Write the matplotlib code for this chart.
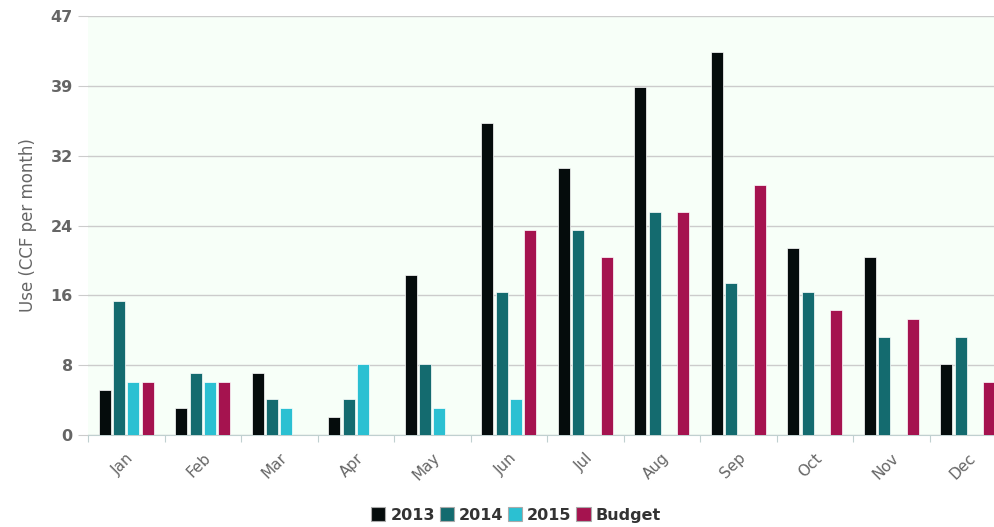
import numpy as np
import matplotlib.pyplot as plt
from matplotlib.patches import Patch

# Data (CCF per month)
months = ['Jan', 'Feb', 'Mar', 'Apr', 'May', 'Jun', 'Jul', 'Aug', 'Sep', 'Oct', 'Nov', 'Dec']
use_2013 = [5, 3, 7, 2, 18, 35, 30, 39, 43, 21, 20, 8]
use_2014 = [15, 7, 4, 4, 8, 16, 23, 25, 17, 16, 11, 11]
use_2015 = [6, 6, 3, 8, 3, 4, 0, 0, 0, 0, 0, 0]
budget   = [6, 6, 0, 0, 0, 23, 20, 25, 28, 14, 13, 6]
series_names = ['2013', '2014', '2015', 'Budget']
ytick_labels = ['0', '8', '16', '24', '32', '39', '47']

colors = ['#050c0c', '#146b6f', '#2bc0d2', '#a5134f']

fig = plt.figure(figsize=(9.94, 5.27), dpi=100)
ax = fig.add_axes([88 / 994, 92 / 527, 918 / 994, 419 / 527])
ax.set_facecolor('#f7fff8')

x = np.arange(len(months))
bw = 0.157
step = 0.187
data = [use_2013, use_2014, use_2015, budget]
for i, (vals, c) in enumerate(zip(data, colors)):
    ax.bar(x + (i - 1.5) * step, vals, width=bw, color=c, edgecolor='white',
           linewidth=0.5, zorder=3)

ax.set_xlim(-0.5, len(months) - 0.5)
ax.set_ylim(0, 47)
ax.set_yticks(np.linspace(0, 47, 7))
ax.set_yticklabels(ytick_labels, fontsize=11.5, fontweight='bold', color='#666666')
ax.grid(axis='y', color='#cccccc', lw=1, zorder=1)
ax.tick_params(axis='y', length=7, color='#cccccc', pad=4)

# category boundaries as x ticks, labels centered
ax.set_xticks(np.arange(len(months) + 1) - 0.5)
ax.set_xticklabels([])
ax.tick_params(axis='x', length=5, color='#c0d0d0', direction='out')
ax.set_xticks(x, minor=True)
ax.set_xticklabels(months, minor=True, rotation=45, fontsize=11,
                   color='#666666', ha='right', rotation_mode='anchor')
ax.tick_params(axis='x', which='minor', length=0, pad=11)

for s in ['top', 'right', 'left']:
    ax.spines[s].set_visible(False)
ax.spines['bottom'].set_color('#c0d0d0')

ax.set_ylabel('Use (CCF per month)', fontsize=12, color='#666666', labelpad=10)

handles = [Patch(facecolor=c, edgecolor='#aaaaaa', lw=0.8) for c in colors]
leg = fig.legend(handles, series_names, loc='center', bbox_to_anchor=(516 / 994, 12 / 527),
                 ncol=4, frameon=False, prop={'weight': 'bold', 'size': 11.5},
                 handlelength=0.9, handleheight=0.9, handletextpad=0.3, columnspacing=0.3)
for t in leg.get_texts():
    t.set_color('#333333')

fig.savefig('out.png', dpi=100, facecolor='white')
